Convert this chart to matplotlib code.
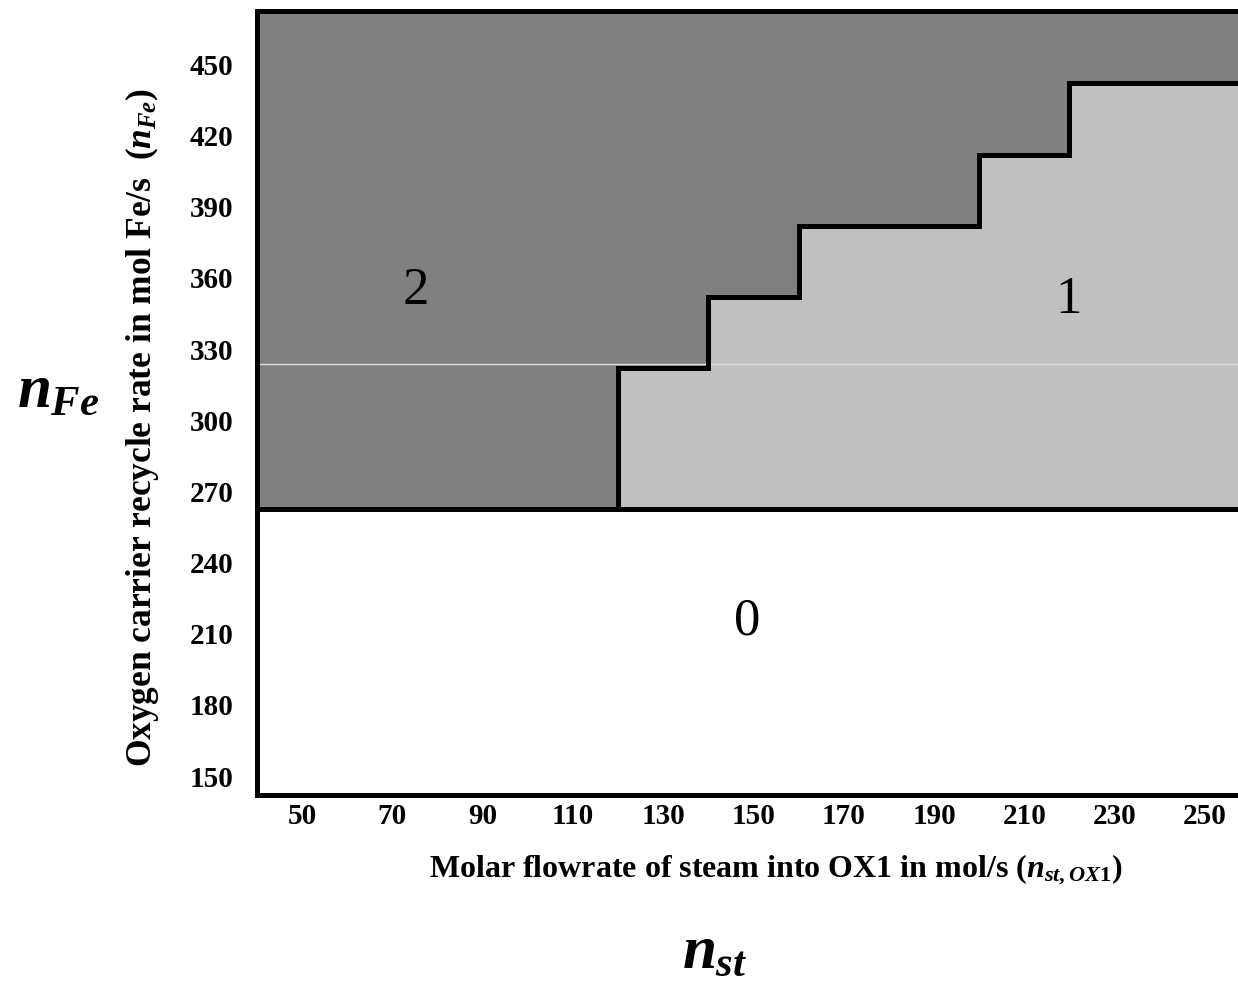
import matplotlib
matplotlib.use("Agg")
import matplotlib.pyplot as plt

# ---- data ----
x_ticks = [50, 70, 90, 110, 130, 150, 170, 190, 210, 230, 250]
y_ticks = [150, 180, 210, 240, 270, 300, 330, 360, 390, 420, 450]
x_range = [40, 260]
y_range = [142, 472.5]
feasible_min_fe = 262.5                      # boundary between region 0 and regions 1/2
step_steam = [120, 140, 160, 200, 220, 260]  # steam flow where the 1/2 boundary steps up
step_fe = [322, 352, 382, 412, 442, 442]     # Fe recycle level of each step
artifact_line = 323.5
region_labels = ["2", "1", "0"]
region_label_pos = [(75.2, 354.3), (219.8, 350.5), (148.7, 215.2)]

plt.rcParams['mathtext.fontset'] = 'custom'
plt.rcParams['mathtext.it'] = 'Liberation Serif:italic:bold'
plt.rcParams['mathtext.rm'] = 'Liberation Serif:bold'
plt.rcParams['mathtext.bf'] = 'Liberation Serif:bold'

W, H = 1238, 983
fig = plt.figure(figsize=(W / 100, H / 100), dpi=100)
ax = fig.add_axes([257 / W, 1 - 795 / H, (1250 - 257) / W, (795 - 11) / H])
ax.set_xlim(*x_range)
ax.set_ylim(*y_range)

DARK = '#808080'
LIGHT = '#c0c0c0'

# region 2 background (dark)
ax.axhspan(feasible_min_fe, y_range[1], color=DARK, lw=0, zorder=1)
# region 1 (light) under the staircase
ax.fill_between(step_steam, feasible_min_fe, step_fe, step='post', color=LIGHT, lw=0, zorder=2)
# faint artifact line
ax.axhline(artifact_line, color='#e0e0e0', lw=1.0, zorder=3)
# boundaries
ax.axhline(feasible_min_fe, color='black', lw=3.6, zorder=4)
ax.step([step_steam[0]] + step_steam, [feasible_min_fe] + step_fe, where='post',
        color='black', lw=3.6, zorder=4, solid_joinstyle='miter')

for lab, (px, py) in zip(region_labels, region_label_pos):
    ax.text(px, py, lab, fontsize=38, family='Liberation Serif', ha='center', va='center', zorder=5)

for s in ['left', 'top', 'bottom']:
    ax.spines[s].set_linewidth(3.6)
ax.spines['right'].set_visible(False)
for s in ax.spines.values():
    s.set_zorder(6)

ax.set_xticks(x_ticks)
ax.set_yticks(y_ticks)
ax.tick_params(length=0, labelsize=21)
ax.tick_params(axis='y', pad=17)
ax.tick_params(axis='x', pad=6)
for t in ax.get_xticklabels() + ax.get_yticklabels():
    t.set_family('Liberation Serif')
    t.set_weight('bold')

fig.text(776 / W, 1 - 870 / H, 'Molar flowrate of steam into OX1 in mol/s ($n_{st,OX1}$)',
         fontsize=23, family='Liberation Serif', weight='bold', ha='center', va='center')
fig.text(142 / W, 1 - 427 / H, 'Oxygen carrier recycle rate in mol Fe/s  ($n_{Fe}$)',
         fontsize=25.5, family='Liberation Serif', weight='bold', ha='center', va='center', rotation=90)

fig.text(58 / W, 1 - 390 / H, '$n_{Fe}$', fontsize=44, ha='center', va='center')
fig.text(715 / W, 1 - 951 / H, '$n_{st}$', fontsize=44, ha='center', va='center')

fig.savefig('out.png', dpi=100)
